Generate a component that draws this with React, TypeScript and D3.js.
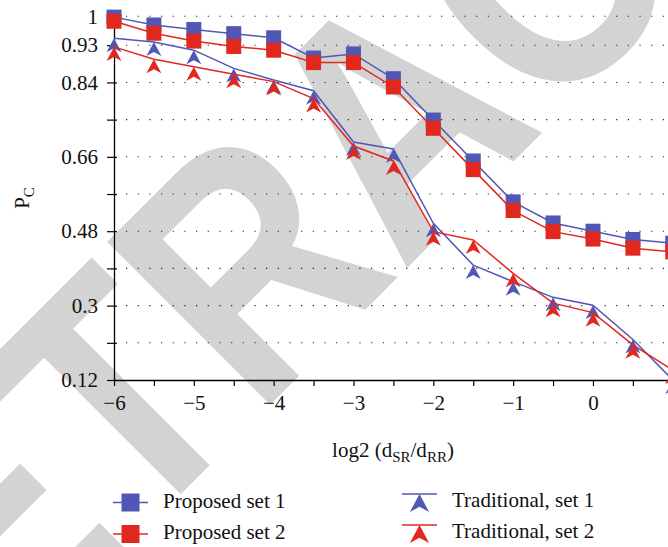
import React, { useRef, useEffect } from 'react';
import * as d3 from 'd3';

const xValues = [-6, -5.5, -5, -4.5, -4, -3.5, -3, -2.5, -2, -1.5, -1, -0.5, 0, 0.5, 1];
const proposedSet1 = [0.998, 0.979, 0.968, 0.958, 0.948, 0.899, 0.909, 0.849, 0.749, 0.65, 0.551, 0.5, 0.48, 0.46, 0.451];
const proposedSet2 = [0.988, 0.959, 0.94, 0.927, 0.918, 0.888, 0.888, 0.829, 0.729, 0.629, 0.53, 0.479, 0.461, 0.439, 0.43];
const traditionalSet1 = [0.947, 0.938, 0.918, 0.874, 0.846, 0.82, 0.696, 0.679, 0.499, 0.398, 0.358, 0.32, 0.301, 0.218, 0.12];
const traditionalSet2 = [0.926, 0.896, 0.878, 0.86, 0.842, 0.801, 0.686, 0.65, 0.479, 0.459, 0.378, 0.306, 0.283, 0.205, 0.144];

const yTicks = [0.12, 0.21, 0.3, 0.39, 0.48, 0.57, 0.66, 0.75, 0.84, 0.93, 1];
const yLabelled = [0.12, 0.3, 0.48, 0.66, 0.84, 0.93, 1];
const xTicks = [-6, -5.5, -5, -4.5, -4, -3.5, -3, -2.5, -2, -1.5, -1, -0.5, 0, 0.5, 1];

const BLUE = '#5157b5';
const RED = '#e0281f';
const FONT = '"Liberation Serif", "Times New Roman", serif';

const series = [
  { name: 'Proposed set 1', values: proposedSet1, color: BLUE, marker: 'square' },
  { name: 'Proposed set 2', values: proposedSet2, color: RED, marker: 'square' },
  { name: 'Traditional, set 1', values: traditionalSet1, color: BLUE, marker: 'arrow' },
  { name: 'Traditional, set 2', values: traditionalSet2, color: RED, marker: 'arrow' },
];

// arrow-shaped triangle, tip sits on the data point
const arrowPath = (s: number) => `M0,0L${7.5 * s},${14 * s}L0,${10 * s}L${-7.5 * s},${14 * s}Z`;

export default function App() {
  const svgRef = useRef<SVGSVGElement>(null);

  useEffect(() => {
    const svg = d3.select(svgRef.current);
    svg.selectAll('*').remove();

    const width = 668;

    const x = d3.scaleLinear().domain([-6, 1]).range([114, 672.8]);
    const y = d3.scaleLinear().domain([0.12, 1]).range([380, 16.3]);

    // watermark
    svg.append('text')
      .attr('transform', 'translate(-146,821) rotate(-45) scale(0.85,1)')
      .attr('font-family', '"Liberation Sans", Arial, sans-serif')
      .attr('font-weight', 'bold')
      .attr('font-size', 335)
      .attr('fill', '#d3d3d3')
      .text('RETRACTED');

    // dotted grid
    svg.append('g')
      .selectAll('line')
      .data(yTicks.filter(d => d > 0.12))
      .join('line')
      .attr('x1', 126)
      .attr('x2', width)
      .attr('y1', d => y(d))
      .attr('y2', d => y(d))
      .attr('stroke', '#222')
      .attr('stroke-width', 1.1)
      .attr('stroke-dasharray', '1.2 10.47');

    // y axis
    const yAxis = svg.append('g')
      .attr('transform', `translate(${x(-6)},0)`)
      .call(d3.axisLeft(y)
        .tickValues(yTicks)
        .tickSizeInner(7)
        .tickSizeOuter(0)
        .tickPadding(9)
        .tickFormat(d => (yLabelled.includes(+d) ? String(+d) : '')));
    yAxis.select('.domain').attr('stroke', '#000').attr('stroke-width', 1.3);
    yAxis.selectAll('.tick line').attr('x2', 3).attr('x1', -7).attr('stroke-width', 1.2);
    yAxis.selectAll('text').attr('font-family', FONT).attr('font-size', 21).attr('fill', '#111');

    // x axis
    const xAxis = svg.append('g')
      .attr('transform', `translate(0,${y(0.12)})`)
      .call(d3.axisBottom(x)
        .tickValues(xTicks)
        .tickSizeInner(6)
        .tickSizeOuter(0)
        .tickPadding(9)
        .tickFormat(d => (Number.isInteger(+d) && +d < 1 ? d3.format('')(+d) : '')));
    xAxis.select('.domain').attr('stroke', '#000').attr('stroke-width', 1.3);
    xAxis.selectAll('.tick line').attr('stroke-width', 1.2);
    xAxis.selectAll('text').attr('font-family', FONT).attr('font-size', 21).attr('fill', '#111');

    // axis titles
    const xt = svg.append('text')
      .attr('x', 393)
      .attr('y', 457)
      .attr('text-anchor', 'middle')
      .attr('font-family', FONT)
      .attr('font-size', 21)
      .attr('fill', '#111');
    xt.append('tspan').text('log2 (d');
    xt.append('tspan').attr('font-size', 15).attr('dy', 5).text('SR');
    xt.append('tspan').attr('dy', -5).text('/d');
    xt.append('tspan').attr('font-size', 15).attr('dy', 5).text('RR');
    xt.append('tspan').attr('dy', -5).text(')');

    const yt = svg.append('text')
      .attr('transform', 'translate(29,198) rotate(-90)')
      .attr('text-anchor', 'middle')
      .attr('font-family', FONT)
      .attr('font-size', 21)
      .attr('fill', '#111');
    yt.append('tspan').text('P');
    yt.append('tspan').attr('font-size', 15).attr('dy', 5).text('C');

    // series
    const line = d3.line<number>()
      .x((_, i) => x(xValues[i]))
      .y(d => y(d));

    series.forEach(s => {
      const g = svg.append('g');
      g.append('path')
        .datum(s.values)
        .attr('fill', 'none')
        .attr('stroke', s.color)
        .attr('stroke-width', 1.5)
        .attr('d', line);
      if (s.marker === 'square') {
        g.selectAll('rect')
          .data(s.values)
          .join('rect')
          .attr('x', (_, i) => x(xValues[i]) - 7.5)
          .attr('y', d => y(d) - 7.5)
          .attr('width', 15)
          .attr('height', 15)
          .attr('fill', s.color);
      } else {
        g.selectAll('path.mk')
          .data(s.values)
          .join('path')
          .attr('class', 'mk')
          .attr('transform', (d, i) => `translate(${x(xValues[i])},${y(d)})`)
          .attr('d', arrowPath(1))
          .attr('fill', s.color);
      }
    });

    // legend
    const legendPos = [
      { lx: 113, ly: 502.5 },
      { lx: 113, ly: 534 },
      { lx: 402, ly: 494 },
      { lx: 402, ly: 525 },
    ];
    series.forEach((s, i) => {
      const p = legendPos[i];
      const g = svg.append('g');
      g.append('line')
        .attr('x1', p.lx).attr('x2', p.lx + 35)
        .attr('y1', p.ly).attr('y2', p.ly)
        .attr('stroke', s.color).attr('stroke-width', 1.5);
      if (s.marker === 'square') {
        g.append('rect')
          .attr('x', p.lx + 17.5 - 9).attr('y', p.ly - 9)
          .attr('width', 18).attr('height', 18)
          .attr('fill', s.color);
        g.append('text')
          .attr('x', 163).attr('y', p.ly + 5)
          .attr('font-family', FONT).attr('font-size', 21).attr('fill', '#111')
          .text(s.name);
      } else {
        g.append('path')
          .attr('transform', `translate(${p.lx + 17.5},${p.ly})`)
          .attr('d', arrowPath(1.28))
          .attr('fill', s.color);
        g.append('text')
          .attr('x', 452).attr('y', p.ly + 13)
          .attr('font-family', FONT).attr('font-size', 21).attr('fill', '#111')
          .text(s.name);
      }
    });
  }, []);

  return (
    <svg
      ref={svgRef}
      width={668}
      height={547}
      style={{ position: 'absolute', left: 0, top: 0, background: '#fff' }}
    />
  );
}
